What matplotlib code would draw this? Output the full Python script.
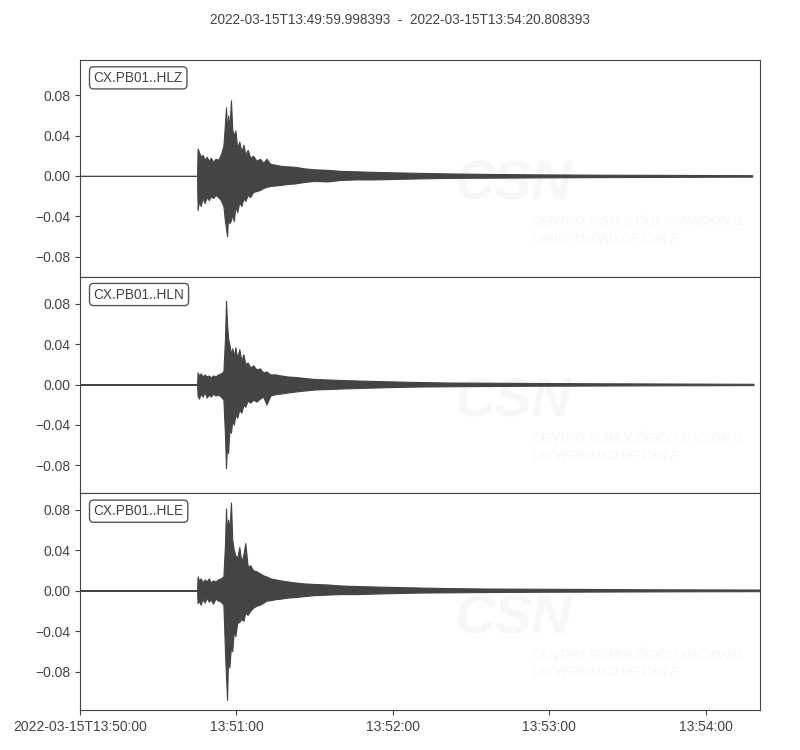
import numpy as np
import matplotlib
matplotlib.use("Agg")
import matplotlib.pyplot as plt

# seismogram envelopes (seconds after 13:50:00)
title = "2022-03-15T13:49:59.998393  -  2022-03-15T13:54:20.808393"
channels = ["CX.PB01..HLZ", "CX.PB01..HLN", "CX.PB01..HLE"]
t_end = [257.8, 258.3, 260.81]
x_end = 260.81

times = [0, 44.9, 45.1, 45.6, 46.3, 47.0, 47.8, 48.6, 49.4, 50.2,
         51.0, 52.0, 53.0, 54.0, 55.0, 55.6, 56.0, 56.4, 56.8, 57.3,
         57.9, 58.4, 59.0, 59.6, 60.3, 61.1, 61.9, 62.7, 63.4, 64.3,
         65.3, 66.4, 67.7, 69.0, 70.3, 71.5, 73.0, 75.0, 77.0, 79.5,
         82.5, 86.0, 90.0, 95.0, 100, 106, 113, 121, 130, 140,
         155, 175, 200, 225, 258]

z_up = [0, 0, 0.027, 0.024, 0.019, 0.021, 0.016, 0.019, 0.015, 0.018,
        0.014, 0.017, 0.016, 0.021, 0.030, 0.052, 0.068, 0.042, 0.060, 0.048,
        0.075, 0.046, 0.040, 0.045, 0.028, 0.034, 0.024, 0.031, 0.021, 0.026,
        0.018, 0.020, 0.015, 0.017, 0.013, 0.017, 0.012, 0.011, 0.010, 0.0095,
        0.009, 0.0075, 0.0065, 0.006, 0.005, 0.0045, 0.004, 0.0035, 0.003, 0.0025,
        0.002, 0.0015, 0.0012, 0.001, 0.0007]
z_lo = [0, 0, -0.034, -0.025, -0.030, -0.022, -0.027, -0.021, -0.024, -0.020,
        -0.022, -0.019, -0.021, -0.024, -0.030, -0.045, -0.052, -0.060, -0.040, -0.047,
        -0.044, -0.038, -0.045, -0.030, -0.036, -0.026, -0.030, -0.022, -0.025, -0.019,
        -0.021, -0.016, -0.015, -0.014, -0.012, -0.011, -0.010, -0.0095, -0.009, -0.008,
        -0.0075, -0.006, -0.005, -0.0055, -0.004, -0.0035, -0.0035, -0.003, -0.0025, -0.002,
        -0.0018, -0.0015, -0.0012, -0.001, -0.0007]

n_up = [0, 0, 0.012, 0.009, 0.011, 0.008, 0.010, 0.008, 0.009, 0.007,
        0.009, 0.008, 0.010, 0.011, 0.013, 0.045, 0.083, 0.060, 0.046, 0.040,
        0.030, 0.036, 0.028, 0.037, 0.026, 0.035, 0.024, 0.030, 0.020, 0.022,
        0.017, 0.019, 0.015, 0.016, 0.012, 0.013, 0.010, 0.010, 0.009, 0.008,
        0.0075, 0.0065, 0.0055, 0.005, 0.0045, 0.004, 0.0035, 0.003, 0.0025, 0.002,
        0.0018, 0.0015, 0.0012, 0.001, 0.0007]
n_lo = [0, 0, -0.011, -0.014, -0.009, -0.012, -0.008, -0.013, -0.010, -0.012,
        -0.009, -0.011, -0.010, -0.012, -0.015, -0.050, -0.083, -0.060, -0.068, -0.045,
        -0.048, -0.036, -0.040, -0.030, -0.033, -0.025, -0.028, -0.020, -0.022, -0.016,
        -0.018, -0.015, -0.017, -0.014, -0.012, -0.020, -0.011, -0.0095, -0.009, -0.008,
        -0.007, -0.006, -0.005, -0.0045, -0.004, -0.0035, -0.003, -0.0025, -0.002, -0.0018,
        -0.0015, -0.0012, -0.001, -0.0008, -0.0006]

e_up = [0, 0, 0.014, 0.010, 0.012, 0.008, 0.011, 0.009, 0.012, 0.008,
        0.010, 0.009, 0.011, 0.012, 0.014, 0.045, 0.081, 0.055, 0.070, 0.060,
        0.087, 0.050, 0.040, 0.035, 0.032, 0.043, 0.028, 0.036, 0.047, 0.024,
        0.025, 0.020, 0.019, 0.017, 0.015, 0.014, 0.012, 0.011, 0.010, 0.009,
        0.008, 0.007, 0.0065, 0.006, 0.005, 0.0045, 0.004, 0.0035, 0.003, 0.0025,
        0.002, 0.0018, 0.0015, 0.0012, 0.001]
e_lo = [0, 0, -0.0125, -0.010, -0.014, -0.008, -0.012, -0.007, -0.011, -0.009,
        -0.013, -0.008, -0.010, -0.011, -0.014, -0.060, -0.085, -0.108, -0.065, -0.076,
        -0.055, -0.060, -0.040, -0.045, -0.032, -0.031, -0.028, -0.030, -0.022, -0.024,
        -0.020, -0.017, -0.015, -0.014, -0.012, -0.010, -0.0095, -0.0085, -0.008, -0.007,
        -0.0065, -0.0055, -0.0045, -0.004, -0.0035, -0.0035, -0.003, -0.0025, -0.002, -0.0018,
        -0.0015, -0.0012, -0.001, -0.0008, -0.0006]

ylims = [(-0.100, 0.115), (-0.108, 0.107), (-0.118, 0.096)]
yticks = [-0.08, -0.04, 0.0, 0.04, 0.08]
xticks = [0, 60, 120, 180, 240]
xlabels = ["2022-03-15T13:50:00", "13:51:00", "13:52:00", "13:53:00", "13:54:00"]

gray = "#444444"
plt.rcParams["font.family"] = ["Liberation Sans", "DejaVu Sans"]
plt.rcParams["text.color"] = gray
plt.rcParams["xtick.color"] = gray
plt.rcParams["ytick.color"] = gray
plt.rcParams["axes.edgecolor"] = gray

fig = plt.figure(figsize=(8, 7.5), dpi=100)
fig.suptitle(title, y=0.982, fontsize=9.8, color=gray)

ups = [z_up, n_up, e_up]
los = [z_lo, n_lo, e_lo]
h = (0.92 - 0.0533) / 3
for i in range(3):
    ax = fig.add_axes([0.1, 0.92 - (i + 1) * h, 0.85, h])
    t = np.array(times, dtype=float)
    t[-1] = t_end[i]
    ax.fill_between(t, los[i], ups[i], color=gray, edgecolor=gray, linewidth=0.8)
    ax.set_xlim(0, x_end)
    ax.set_ylim(*ylims[i])
    ax.set_yticks(yticks)
    ax.tick_params(labelsize=10)
    ax.text(0.02, 0.95, channels[i], transform=ax.transAxes, va="top", ha="left",
            fontsize=9.8, bbox=dict(boxstyle="round", fc="w", ec=gray, alpha=0.9))
    # faint watermark
    ax.text(0.55, 0.42, "CSN", transform=ax.transAxes, fontsize=40, fontweight="bold",
            fontstyle="italic", color="#f7f7f7", va="center", ha="left", zorder=0)
    ax.text(0.665, 0.21, "CENTRO SISMOLÓGICO NACIONAL\nUNIVERSIDAD DE CHILE",
            transform=ax.transAxes, fontsize=9, fontstyle="italic", color="#f7f7f7",
            va="center", ha="left", linespacing=1.6, zorder=0, clip_on=True)
    if i < 2:
        ax.set_xticks([])
    else:
        ax.set_xticks(xticks)
        ax.set_xticklabels(xlabels)

fig.savefig("out.png", dpi=100)
